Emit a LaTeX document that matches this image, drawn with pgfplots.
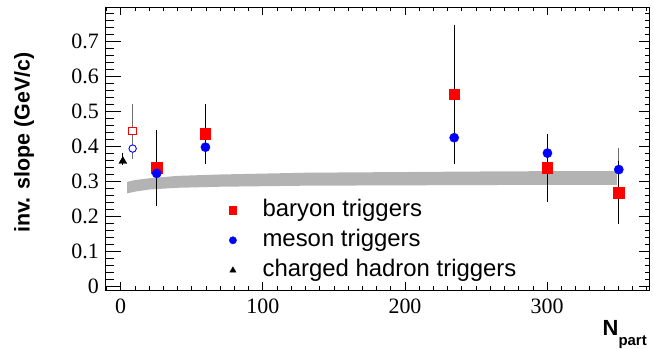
\documentclass[border=0pt]{standalone}
\usepackage{pgfplots}
\pgfplotsset{compat=1.18}
\usepackage{fontspec}
\setmainfont{Liberation Serif}
\newfontfamily\arial{Liberation Sans}
\definecolor{bandgray}{RGB}{179,179,179}
\definecolor{bargray}{RGB}{110,110,110}
\begin{document}
\begin{tikzpicture}
\pgfplotsset{
  common/.style={
    at={(0,0)}, anchor=south west,
    scale only axis, width=544bp, height=282.5bp,
    xmin=-10.7, xmax=372, ymin=-0.011, ymax=0.796,
    tick align=inside,
    axis line style={line width=0.9bp},
    every tick/.style={line width=0.8bp, black},
    /pgf/number format/assume math mode=true,
    ticklabel style={font=\fontsize{22}{22}\selectfont, inner sep=0pt},
  }
}
% y ticks left
\begin{axis}[common,
  xtick=\empty,
  ytick={0,0.1,0.2,0.3,0.4,0.5,0.6,0.7},
  minor ytick={0.02,0.04,0.06,0.08,0.12,0.14,0.16,0.18,0.22,0.24,0.26,0.28,0.32,0.34,0.36,0.38,0.42,0.44,0.46,0.48,0.52,0.54,0.56,0.58,0.62,0.64,0.66,0.68,0.72,0.74,0.76,0.78},
  ytick pos=left,
  major tick length=15bp, minor tick length=8bp,
  yticklabel style={xshift=-6.5bp},
]
\end{axis}
% y ticks right
\begin{axis}[common,
  xtick=\empty,
  ytick={0,0.1,0.2,0.3,0.4,0.5,0.6,0.7},
  minor ytick={0.02,0.04,0.06,0.08,0.12,0.14,0.16,0.18,0.22,0.24,0.26,0.28,0.32,0.34,0.36,0.38,0.42,0.44,0.46,0.48,0.52,0.54,0.56,0.58,0.62,0.64,0.66,0.68,0.72,0.74,0.76,0.78},
  ytick pos=right, yticklabels={},
  major tick length=11bp, minor tick length=5bp,
]
\end{axis}
% main axis with data and x ticks
\begin{axis}[common, name=main,
  ytick=\empty,
  xtick={0,100,200,300},
  minor xtick={-10,10,20,30,40,50,60,70,80,90,110,120,130,140,150,160,170,180,190,210,220,230,240,250,260,270,280,290,310,320,330,340,350,360,370},
  xtick pos=both, xticklabel pos=lower,
  major tick length=8bp, minor tick length=4bp,
  xticklabel style={yshift=-8.3bp},
  legend style={draw=none, fill=none, inner sep=0pt, outer sep=0pt,
    at={(rel axis cs:0.2275,0.321)}, anchor=north west,
    font=\arial\fontsize{24}{24}\selectfont,
    nodes={inner sep=0pt, text height=17bp, text depth=5bp},
    column sep=26bp, row sep=8bp},
  legend cell align=left,
  legend image code/.code={\draw[#1] plot coordinates {(0bp,0bp)};},
]
% band
\addplot[fill=bandgray, draw=none, forget plot] coordinates {
 (4.6,0.265) (10,0.270) (20,0.276) (40,0.281) (70,0.284) (130,0.287) (200,0.288) (270,0.289) (349,0.289)
 (349,0.329) (270,0.328) (200,0.326) (130,0.324) (70,0.319) (40,0.315) (20,0.308) (10,0.303) (4.6,0.298)} -- cycle;
% meson error bars (gray)
\addplot[only marks, mark=none, forget plot,
  error bars/.cd, y dir=both, y explicit,
  error bar style={bargray, line width=1.2bp},
  error mark options={bargray, mark size=2bp, line width=1.2bp}]
 coordinates {
 (25.3,0.322) +- (0,0.070)
 (59.6,0.397) +- (0,0.040)
 (234.6,0.424) +- (0,0.052)
 (300.2,0.380) +- (0,0.050)
 (350.4,0.333) +- (0,0.056)
};
% baryon
\addplot[only marks, mark=square*, mark size=5.2bp, red, forget plot,
  error bars/.cd, y dir=both, y explicit,
  error bar style={black, line width=1.2bp},
  error mark options={black, mark size=2bp, line width=1.2bp}]
 coordinates {
 (25.3,0.338) +- (0,0.103)
 (59.6,0.436) +- (0,0.080)
 (234.6,0.548) +- (0,0.193)
 (300.2,0.338) +- (0,0.092)
 (350.4,0.267) +- (0,0.085)
};
% meson marks
\addplot[only marks, mark=*, mark size=4.6bp, blue, forget plot]
 coordinates {
 (25.3,0.322) (59.6,0.397) (234.6,0.424) (300.2,0.380) (350.4,0.333)
};
% open baryon
\addplot[only marks, mark=square*, mark size=3.8bp, red, mark options={fill=white, line width=0.9bp}, forget plot,
  error bars/.cd, y dir=both, y explicit,
  error bar style={bargray, line width=1.2bp},
  error mark options={bargray, mark size=2bp, line width=1.2bp}]
 coordinates {(8.4,0.443) +- (0,0.071)};
% open meson
\addplot[only marks, mark=*, mark size=3.7bp, blue, mark options={fill=white, line width=0.9bp}, forget plot,
  error bars/.cd, y dir=both, y explicit,
  error bar style={bargray, line width=1.2bp},
  error mark options={bargray, mark size=2bp, line width=1.2bp}]
 coordinates {(8.4,0.393) +- (0,0.024)};
% charged hadron
\addplot[only marks, mark=triangle*, mark size=4.6bp, black, forget plot,
  error bars/.cd, y dir=both, y explicit,
  error bar style={black, line width=1.2bp},
  error mark options={black, mark size=2bp, line width=1.2bp}]
 coordinates {(1.5,0.357) += (0,0.018) -= (0,0.005)};
\addlegendimage{only marks, mark=square*, red, mark size=3.65bp}
\addlegendentry{baryon triggers}
\addlegendimage{only marks, mark=*, blue, mark size=3.65bp}
\addlegendentry{meson triggers}
\addlegendimage{only marks, mark=triangle*, black, mark size=3.5bp}
\addlegendentry{charged hadron triggers}
\end{axis}
\node[rotate=90, inner sep=0pt, font=\arial\bfseries\fontsize{21.5}{21.5}\selectfont]
  at ([xshift=-81.5bp, yshift=147.5bp]main.south west) {inv. slope (GeV/c)};
\node[anchor=base west, inner sep=0pt, font=\arial\bfseries]
  at ([xshift=497bp, yshift=-45bp]main.south west)
  {\fontsize{22}{22}\selectfont N\raisebox{-10bp}{\fontsize{15}{15}\selectfont part}};
\path ([xshift=-105.5bp,yshift=-59bp]main.south west) rectangle ([xshift=4.5bp,yshift=7.5bp]main.north east);
\end{tikzpicture}
\end{document}
